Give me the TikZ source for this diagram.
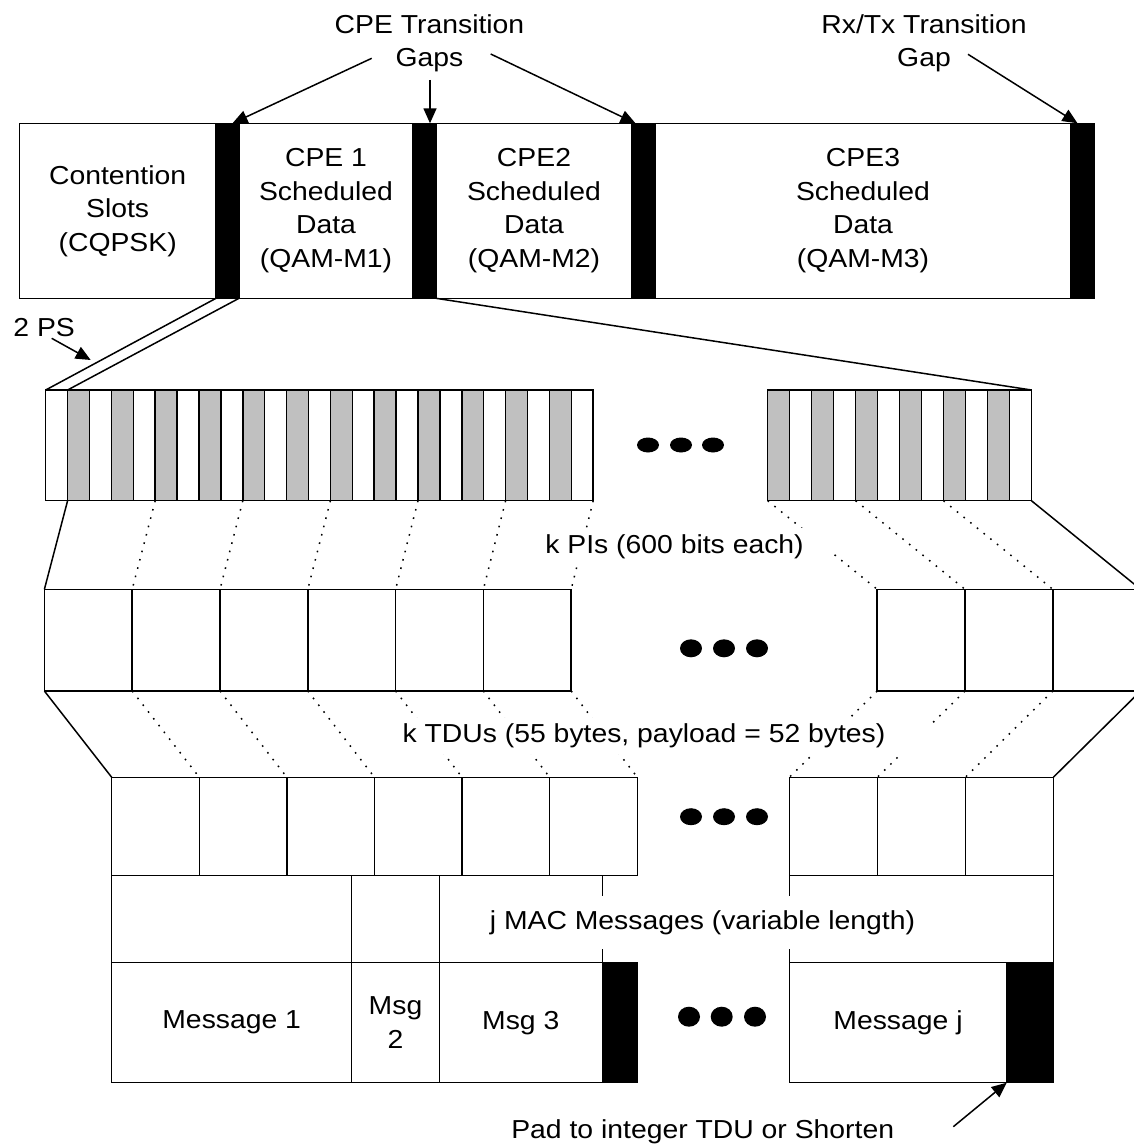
\documentclass[tikz,border=0pt]{standalone}
\usepackage{fontspec}
\setmainfont{Liberation Sans}[FakeStretch=1.09]
\usetikzlibrary{arrows.meta,shapes.geometric,calc}
\definecolor{cellgray}{RGB}{192,192,192}
\begin{document}
\begin{tikzpicture}[x=1pt,y=-1pt,
  font=\fontsize{26}{33.5}\selectfont,
  line width=1.5pt,
  box/.style={draw, inner sep=0pt, outer sep=0pt, anchor=north west, align=center},
  toprow/.style={box, minimum height=175pt},
  gapbox/.style={toprow, fill=black, minimum width=23pt},
  dotn/.style={ellipse, fill=black, inner sep=0pt, minimum width=22pt, minimum height=#1},
  dotn/.default=16pt,
  arr/.style={-{Triangle[length=15pt,width=13pt]}},
  dotlink/.style={dash pattern=on 1.6pt off 7pt},
  tlabel/.style={fill=white, inner xsep=#1, inner ysep=6pt, anchor=base},
  tlabel/.default=30pt,
  lbl/.style={align=center, inner sep=0pt}
]
\useasboundingbox (0,0) rectangle (1134,1145);
\clip (0,0) rectangle (1134,1145);

% ---------- top row ----------
\node[toprow, minimum width=196.7pt] (cont) at (19.3,123.3) {Contention\\Slots\\(CQPSK)};
\node[gapbox] (g1) at (216,123.3) {};
\node[toprow, minimum width=174pt] (cpe1) at (239,123.3) {CPE 1\\Scheduled\\Data\\(QAM-M1)};
\node[gapbox] (g2) at (413,123.3) {};
\node[toprow, minimum width=196pt] (cpe2) at (436,123.3) {CPE2\\Scheduled\\Data\\(QAM-M2)};
\node[gapbox] (g3) at (632,123.3) {};
\node[toprow, minimum width=416pt] (cpe3) at (655,123.3) {CPE3\\Scheduled\\Data\\(QAM-M3)};
\node[gapbox] (g4) at (1071,123.3) {};

% ---------- top labels and arrows ----------
\node[lbl] (cpel) at (429.5,43.3) {CPE Transition\\Gaps};
\node[lbl] (rxl) at (924,43.3) {Rx/Tx Transition\\Gap};
\coordinate (a1s) at (371.7,58.3);
\coordinate (a2s) at (430,80);
\coordinate (a3s) at (490.7,54);
\coordinate (a4s) at (968,54.3);
\draw[arr] (a1s) -- ([xshift=5pt]g1.north);
\draw[arr] (a2s) -- (a2s |- g2.north);
\draw[arr] (a3s) -- ([xshift=-8pt]g3.north);
\draw[arr] (a4s) -- ([xshift=-5pt]g4.north);

% ---------- 2 PS ----------
\node[anchor=base west, inner sep=0pt] (psl) at (12.7,336) {2 PS};
\coordinate (ps0) at (51.7,338.3);
\coordinate (ps1) at (90.7,360);
\draw[arr] (ps0) -- (ps1);

% ---------- PI row ----------
\foreach \k in {1,...,25}{
  \pgfmathsetmacro{\xx}{45.7+21.9*(\k-1)}
  \pgfmathtruncatemacro{\kodd}{mod(\k,2)}
  \ifnum\kodd=1 \def\fc{white}\else\def\fc{cellgray}\fi
  \node[box, fill=\fc, minimum width=21.9pt, minimum height=110.7pt] (p\k) at (\xx,390) {};
}
\foreach \k in {1,...,12}{
  \pgfmathsetmacro{\xx}{767.7+21.975*(\k-1)}
  \pgfmathtruncatemacro{\kodd}{mod(\k,2)}
  \ifnum\kodd=1 \def\fc{cellgray}\else\def\fc{white}\fi
  \node[box, fill=\fc, minimum width=21.975pt, minimum height=110.7pt] (q\k) at (\xx,390) {};
}
\foreach \i/\xx in {1/648,2/681,3/713} \node[dotn=15pt] (pd\i) at (\xx,445) {};

% ---------- TDU row 1 ----------
\foreach \k in {1,...,6}{
  \pgfmathsetmacro{\xx}{44.4+87.8*(\k-1)}
  \node[box, minimum width=87.8pt, minimum height=101.7pt] (a\k) at (\xx,589.3) {};
}
\foreach \k in {1,...,3}{
  \pgfmathsetmacro{\xx}{877.2+87.8*(\k-1)}
  \node[box, minimum width=87.8pt, minimum height=101.7pt] (b\k) at (\xx,589.3) {};
}
\foreach \i/\xx in {1/691,2/724,3/757} \node[dotn=18pt] (ad\i) at (\xx,648.3) {};

% ---------- TDU row 2 ----------
\foreach \k in {1,...,6}{
  \pgfmathsetmacro{\xx}{111.7+87.6*(\k-1)}
  \node[box, minimum width=87.6pt, minimum height=98.4pt] (c\k) at (\xx,777.3) {};
}
\foreach \k in {1,...,3}{
  \pgfmathsetmacro{\xx}{789.3+88*(\k-1)}
  \node[box, minimum width=88pt, minimum height=98.4pt] (d\k) at (\xx,777.3) {};
}
\foreach \i/\xx in {1/691,2/724,3/757} \node[dotn=17pt] (cd\i) at (\xx,816.7) {};

% ---------- mapping lines ----------
\draw (g1.south west) -- (p1.north west);
\draw (g1.south east) -- (p1.north east);
\draw (g2.south east) -- (q12.north east);

\draw (p1.south east) -- (a1.north west);
\foreach \i/\j in {5/1,9/2,13/3,17/4,21/5,25/6} \draw[dotlink] (p\i.south east) -- (a\j.north east);
\draw[dotlink] (q1.south west) -- (b1.north west);
\draw[dotlink] (q4.south east) -- (b1.north east);
\draw[dotlink] (q8.south east) -- (b2.north east);
\draw (q12.south east) -- (b3.north east);

\draw (a1.south west) -- (c1.north west);
\foreach \i in {1,...,6} \draw[dotlink] (a\i.south east) -- (c\i.north east);
\draw[dotlink] (b1.south west) -- (d1.north west);
\draw[dotlink] (b1.south east) -- (d1.north east);
\draw[dotlink] (b2.south east) -- (d2.north east);
\draw (b3.south east) -- (d3.north east);

\node[tlabel=30pt] (pil) at (674.5,553.3) {k PIs (600 bits each)};
\node[tlabel=45pt] (tdul) at (644,742.7) {k TDUs (55 bytes, payload = 52 bytes)};

% ---------- MAC row ----------
\node[box, minimum width=240pt, minimum height=87pt] (m1) at (111.7,875.7) {};
\node[box, minimum width=87.6pt, minimum height=87pt] (m2) at (351.7,875.7) {};

% ---------- message row ----------
\node[box, minimum width=240pt, minimum height=120pt] (n1) at (111.7,962.7) {Message 1};
\node[box, minimum width=87.6pt, minimum height=120pt] (n2) at (351.7,962.7) {Msg\\2};
\node[box, minimum width=163pt, minimum height=120pt] (n3) at (439.3,962.7) {Msg 3};
\node[box, fill=black, minimum width=35pt, minimum height=120pt] (pad1) at (602.3,962.7) {};
\node[box, minimum width=217.4pt, minimum height=120pt] (n4) at (789.3,962.7) {Message j};
\node[box, fill=black, minimum width=46.6pt, minimum height=120pt] (pad2) at (1006.7,962.7) {};
\foreach \i/\xx in {1/689,2/721.7,3/755} \node[dotn=20pt] (nd\i) at (\xx,1016.7) {};

\draw (pad1.north west) -- (pad1.north west |- c6.south);
\draw (n4.north west) -- (n4.north west |- d1.south);
\draw (pad2.north east) -- (pad2.north east |- d3.south);
\node[fill=white, inner xsep=10pt, inner ysep=14pt, anchor=base] (macl) at (702.5,929.3) {j MAC Messages (variable length)};

% ---------- pad label ----------
\node[anchor=base, inner sep=0pt] (padl) at (702.7,1138.3) {Pad to integer TDU or Shorten};
\coordinate (pads) at (953.3,1126.7);
\draw[arr] (pads) -- (pad2.south west);
\end{tikzpicture}
\end{document}
